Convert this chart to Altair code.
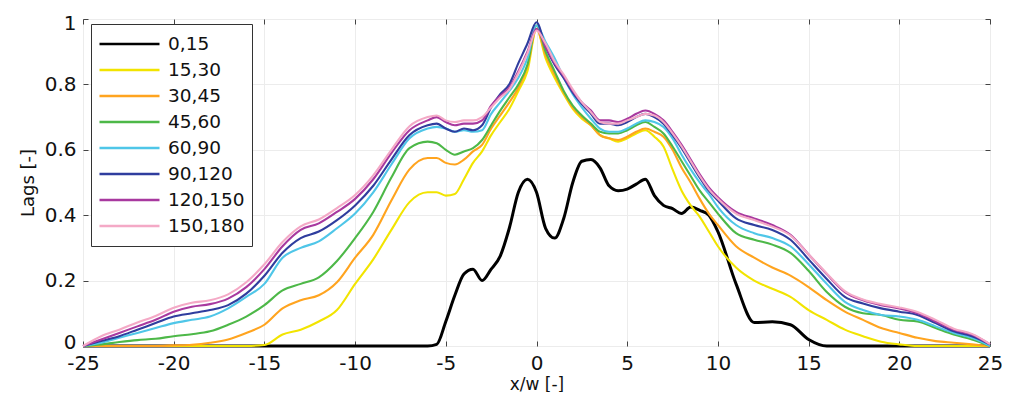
import altair as alt
import pandas as pd

# ---- data ----
X = [-25, -24, -23, -22, -21, -20, -19, -18, -17, -16, -15, -14, -13, -12, -11, -10, -9, -8, -7, -6,
     -5.5, -5, -4.5, -4, -3.5, -3, -2.5, -2, -1.5, -1, -0.5, 0, 0.5, 1, 1.5, 2, 2.5, 3, 3.5, 4,
     4.5, 5, 5.5, 6, 6.5, 7, 7.5, 8, 8.5, 9, 9.5, 10,
     11, 12, 13, 14, 15, 16, 17, 18, 19, 20, 21, 22, 23, 24, 25]

SERIES = ["0,15", "15,30", "30,45", "45,60", "60,90", "90,120", "120,150", "150,180"]
COLORS = ["#000000", "#f2e400", "#ffa41f", "#4db848", "#4fc6e8", "#2f3d9e", "#a8399f", "#f4a9c6"]

S_0_15 = [0] * 20 + \
    [0.005, 0.075, 0.155, 0.22, 0.235, 0.20, 0.235, 0.275, 0.36, 0.47, 0.51, 0.47, 0.36, 0.33, 0.39, 0.50,
     0.565, 0.57, 0.545, 0.49, 0.475, 0.48, 0.495, 0.51, 0.46, 0.43, 0.42, 0.405, 0.425, 0.415, 0.40, 0.35] + \
    [0.19, 0.072, 0.074, 0.065, 0.02, 0, 0, 0, 0, 0, 0, 0, 0, 0, 0]

S_15_30 = [0] * 10 + [0.003, 0.035, 0.05, 0.075, 0.11, 0.19, 0.265, 0.355, 0.44, 0.47] + \
    [0.47, 0.46, 0.465, 0.51, 0.56, 0.595, 0.645, 0.685, 0.725, 0.78, 0.84, 0.97, 0.88, 0.82, 0.77, 0.725,
     0.695, 0.675, 0.645, 0.635, 0.625, 0.635, 0.65, 0.66, 0.64, 0.61, 0.54, 0.475, 0.43, 0.395, 0.35, 0.305] + \
    [0.24, 0.20, 0.175, 0.15, 0.11, 0.08, 0.05, 0.03, 0.013, 0.005, 0, 0, 0, 0, 0]

S_30_45 = [0, 0, 0, 0, 0, 0.002, 0.004, 0.01, 0.02, 0.04, 0.065, 0.115, 0.14, 0.155, 0.195, 0.27, 0.34, 0.445, 0.54, 0.575] + \
    [0.575, 0.56, 0.555, 0.57, 0.595, 0.615, 0.665, 0.705, 0.745, 0.79, 0.855, 0.97, 0.89, 0.83, 0.775, 0.73,
     0.70, 0.675, 0.645, 0.635, 0.63, 0.64, 0.655, 0.665, 0.655, 0.64, 0.60, 0.545, 0.50, 0.45, 0.405, 0.37] + \
    [0.305, 0.27, 0.24, 0.215, 0.18, 0.14, 0.105, 0.08, 0.055, 0.04, 0.025, 0.015, 0.01, 0.005, 0]

S_45_60 = [0, 0.005, 0.012, 0.018, 0.022, 0.03, 0.036, 0.045, 0.065, 0.09, 0.125, 0.17, 0.19, 0.21, 0.26, 0.33, 0.41, 0.515, 0.605, 0.625] + \
    [0.62, 0.60, 0.585, 0.595, 0.605, 0.63, 0.675, 0.72, 0.76, 0.80, 0.86, 0.98, 0.90, 0.84, 0.78, 0.735,
     0.705, 0.68, 0.655, 0.65, 0.65, 0.66, 0.675, 0.685, 0.67, 0.65, 0.61, 0.565, 0.52, 0.475, 0.44, 0.405] + \
    [0.345, 0.325, 0.31, 0.285, 0.23, 0.165, 0.12, 0.10, 0.095, 0.08, 0.075, 0.055, 0.035, 0.02, 0]

S_60_90 = [0, 0.01, 0.025, 0.04, 0.055, 0.07, 0.08, 0.09, 0.115, 0.15, 0.19, 0.27, 0.30, 0.32, 0.36, 0.405, 0.47, 0.555, 0.635, 0.665] + \
    [0.67, 0.665, 0.655, 0.66, 0.655, 0.66, 0.71, 0.745, 0.78, 0.82, 0.88, 0.98, 0.93, 0.88, 0.82, 0.77,
     0.73, 0.695, 0.665, 0.655, 0.655, 0.665, 0.68, 0.69, 0.685, 0.67, 0.635, 0.585, 0.54, 0.50, 0.465, 0.425] + \
    [0.37, 0.345, 0.33, 0.305, 0.25, 0.19, 0.135, 0.11, 0.095, 0.09, 0.08, 0.06, 0.04, 0.025, 0]

S_90_120 = [0, 0.015, 0.03, 0.05, 0.07, 0.09, 0.10, 0.11, 0.125, 0.16, 0.215, 0.285, 0.33, 0.35, 0.385, 0.43, 0.49, 0.57, 0.645, 0.675] + \
    [0.68, 0.665, 0.655, 0.665, 0.66, 0.675, 0.73, 0.77, 0.80, 0.865, 0.925, 0.99, 0.915, 0.86, 0.82, 0.775,
     0.74, 0.71, 0.68, 0.68, 0.675, 0.685, 0.70, 0.71, 0.70, 0.68, 0.645, 0.605, 0.56, 0.515, 0.475, 0.445] + \
    [0.39, 0.37, 0.355, 0.325, 0.265, 0.205, 0.15, 0.13, 0.115, 0.105, 0.095, 0.07, 0.045, 0.03, 0.005]

S_120_150 = [0, 0.02, 0.04, 0.06, 0.08, 0.105, 0.12, 0.128, 0.145, 0.18, 0.235, 0.305, 0.355, 0.375, 0.41, 0.45, 0.51, 0.59, 0.66, 0.69] + \
    [0.70, 0.685, 0.675, 0.68, 0.68, 0.69, 0.735, 0.765, 0.79, 0.84, 0.90, 0.97, 0.915, 0.865, 0.825, 0.78,
     0.745, 0.72, 0.69, 0.69, 0.685, 0.695, 0.71, 0.72, 0.71, 0.69, 0.655, 0.615, 0.57, 0.525, 0.485, 0.455] + \
    [0.41, 0.39, 0.37, 0.34, 0.28, 0.22, 0.165, 0.14, 0.125, 0.115, 0.10, 0.075, 0.05, 0.035, 0.005]

S_150_180 = [0, 0.03, 0.05, 0.072, 0.092, 0.117, 0.132, 0.14, 0.158, 0.195, 0.25, 0.318, 0.366, 0.387, 0.422, 0.462, 0.522, 0.60, 0.672, 0.70] + \
    [0.705, 0.69, 0.685, 0.69, 0.69, 0.70, 0.73, 0.76, 0.785, 0.835, 0.895, 0.965, 0.925, 0.87, 0.83, 0.785,
     0.745, 0.715, 0.685, 0.68, 0.68, 0.69, 0.70, 0.71, 0.705, 0.685, 0.65, 0.61, 0.565, 0.52, 0.48, 0.45] + \
    [0.405, 0.385, 0.365, 0.338, 0.28, 0.222, 0.168, 0.142, 0.128, 0.118, 0.104, 0.08, 0.053, 0.037, 0.006]

X_TICKS = [-25, -20, -15, -10, -5, 0, 5, 10, 15, 20, 25]
Y_TICKS = [0, 0.2, 0.4, 0.6, 0.8, 1]

# ---- long table ----
values = [S_0_15, S_15_30, S_30_45, S_45_60, S_60_90, S_90_120, S_120_150, S_150_180]
rows = []
for order, (name, ys) in enumerate(zip(SERIES, values)):
    for xv, yv in zip(X, ys):
        rows.append({"x": xv, "y": yv, "series": name, "order": order})
df = pd.DataFrame(rows)

FONT = "DejaVu Sans"
xs = alt.Scale(domain=[-25, 25], nice=False, zero=False)
ys = alt.Scale(domain=[0, 1], nice=False)

ax_bottom = alt.Axis(orient="bottom", values=X_TICKS, labelExpr="datum.value + ''", labelFlush=False,
                     offset=-5, tickSize=5, domain=False, grid=True, labelPadding=7,
                     title="x/w [-]", titlePadding=3, titleFontSize=17)
ax_left = alt.Axis(orient="left", values=Y_TICKS, format="~g", labelFlush=True, labelFlushOffset=6,
                   offset=-5, tickSize=5, domain=False, grid=True, labelPadding=7,
                   title="Lags [-]", titlePadding=7)
ax_top = alt.Axis(orient="top", values=X_TICKS, offset=-5, tickSize=5, domain=False,
                  grid=False, labels=False, title=None)
ax_right = alt.Axis(orient="right", values=Y_TICKS, offset=-5, tickSize=5, domain=False,
                    grid=False, labels=False, title=None)

legend = alt.Legend(orient="none", legendX=8, legendY=5, title=None, symbolType="stroke",
                    symbolSize=3600, symbolStrokeWidth=2.5, clipHeight=26, rowPadding=0,
                    labelFont=FONT, labelFontSize=18.5, labelColor="#111", labelOffset=7,
                    labelLimit=300, padding=7, strokeColor="#333", fillColor="white")

lines = alt.Chart(df).mark_line(interpolate="monotone").encode(
    x=alt.X("x:Q", scale=xs, axis=ax_bottom),
    y=alt.Y("y:Q", scale=ys, axis=ax_left),
    color=alt.Color("series:N", scale=alt.Scale(domain=SERIES, range=COLORS), legend=legend),
    strokeWidth=alt.condition(alt.datum.series == "0,15", alt.value(3), alt.value(2.1)),
    order=alt.Order("x:Q"),
)

frame = alt.Chart(df).mark_line(opacity=0).encode(
    x=alt.X("x:Q", scale=xs, axis=ax_top),
    y=alt.Y("y:Q", scale=ys, axis=ax_right),
    detail="series:N",
)

chart = alt.layer(frame, lines).resolve_axis(x="independent", y="independent").properties(
    width=907, height=327,
    autosize=alt.AutoSizeParams(type="none"),
    padding={"left": 75, "top": 11, "right": 12, "bottom": 46},
    background="white",
).configure_view(stroke="#444", strokeWidth=1).configure_axis(
    labelFont=FONT, titleFont=FONT, labelFontSize=20, titleFontSize=18,
    titleFontWeight="normal", labelColor="#111", titleColor="#111",
    tickColor="#444", gridColor="#ececec", gridWidth=1,
)

chart.save("out.html", embed_options={"renderer": "svg", "actions": False})
